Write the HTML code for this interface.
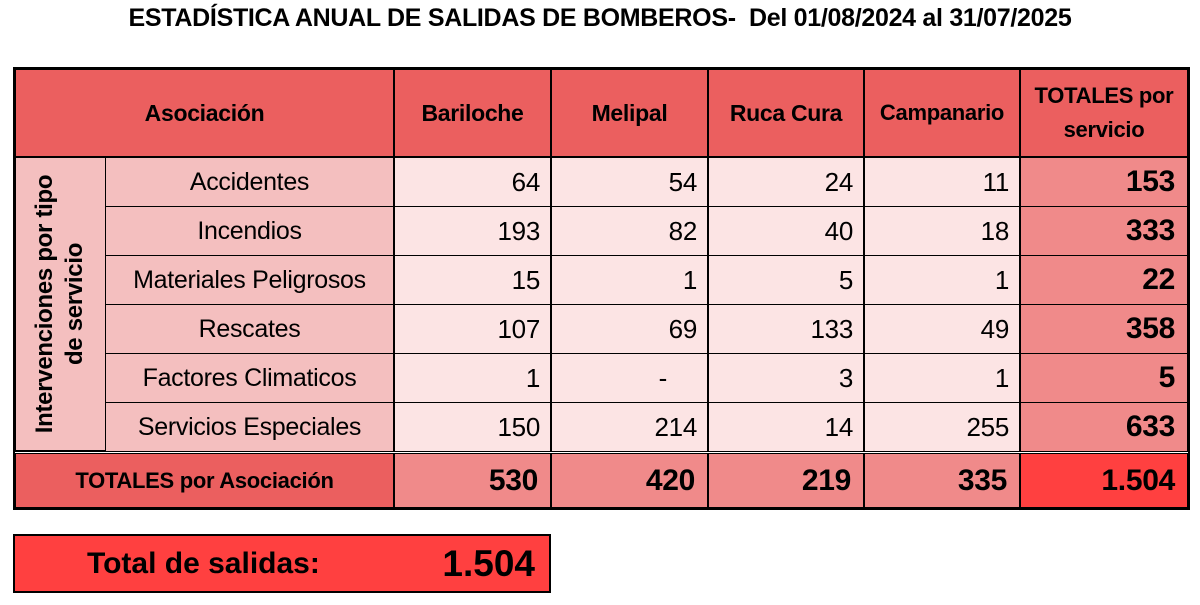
<!DOCTYPE html>
<html><head><meta charset="utf-8"><style>
body{margin:0;width:1200px;height:605px;background:#fff;position:relative;overflow:hidden;font-family:"Liberation Sans",sans-serif;color:#000}
.c{position:absolute;box-sizing:border-box;border:1px solid #000;display:flex;align-items:center;font-size:25px;letter-spacing:-0.3px}
.h{background:#EB5F5F;font-weight:bold;justify-content:center;text-align:center;font-size:23px}
.l{background:#F4BFBF;justify-content:center}
.d{background:#FCE4E4;justify-content:flex-end;padding-right:10px;font-size:26px}
.t{background:#F08A8A;justify-content:flex-end;padding-right:12px;font-weight:bold;font-size:30px}
</style></head><body>
<div style="position:absolute;left:0;width:1200px;top:4px;text-align:center;font-weight:bold;font-size:25px;letter-spacing:-0.3px">ESTADÍSTICA ANUAL DE SALIDAS DE BOMBEROS-&nbsp; Del 01/08/2024 al 31/07/2025</div>
<div style="position:absolute;left:13px;top:67px;width:1177px;height:443px;border:2px solid #000;box-sizing:border-box"></div>
<div class="c h" style="left:15px;top:69px;width:379px;height:88px">Asociación</div>
<div class="c h" style="left:394px;top:69px;width:157px;height:88px">Bariloche</div>
<div class="c h" style="left:551px;top:69px;width:157px;height:88px">Melipal</div>
<div class="c h" style="left:708px;top:69px;width:156px;height:88px">Ruca Cura</div>
<div class="c h" style="left:864px;top:69px;width:156px;height:88px;font-size:22px">Campanario</div>
<div class="c h" style="left:1020px;top:69px;width:168px;height:88px;line-height:34px;font-size:22px">TOTALES por<br>servicio</div>
<div class="c l" style="left:15px;top:157px;width:91px;height:294px;font-weight:bold;font-size:24px"><div style="transform:rotate(-90deg);white-space:nowrap;text-align:center;line-height:30px">Intervenciones por tipo<br>de servicio</div></div>

<div class="c l" style="left:105px;top:157px;width:289px;height:50px">Accidentes</div>
<div class="c d" style="left:394px;top:157px;width:157px;height:50px">64</div>
<div class="c d" style="left:551px;top:157px;width:157px;height:50px">54</div>
<div class="c d" style="left:708px;top:157px;width:156px;height:50px">24</div>
<div class="c d" style="left:864px;top:157px;width:156px;height:50px">11</div>
<div class="c t" style="left:1020px;top:157px;width:168px;height:50px">153</div>

<div class="c l" style="left:105px;top:206px;width:289px;height:50px">Incendios</div>
<div class="c d" style="left:394px;top:206px;width:157px;height:50px">193</div>
<div class="c d" style="left:551px;top:206px;width:157px;height:50px">82</div>
<div class="c d" style="left:708px;top:206px;width:156px;height:50px">40</div>
<div class="c d" style="left:864px;top:206px;width:156px;height:50px">18</div>
<div class="c t" style="left:1020px;top:206px;width:168px;height:50px">333</div>

<div class="c l" style="left:105px;top:255px;width:289px;height:50px">Materiales Peligrosos</div>
<div class="c d" style="left:394px;top:255px;width:157px;height:50px">15</div>
<div class="c d" style="left:551px;top:255px;width:157px;height:50px">1</div>
<div class="c d" style="left:708px;top:255px;width:156px;height:50px">5</div>
<div class="c d" style="left:864px;top:255px;width:156px;height:50px">1</div>
<div class="c t" style="left:1020px;top:255px;width:168px;height:50px">22</div>

<div class="c l" style="left:105px;top:304px;width:289px;height:50px">Rescates</div>
<div class="c d" style="left:394px;top:304px;width:157px;height:50px">107</div>
<div class="c d" style="left:551px;top:304px;width:157px;height:50px">69</div>
<div class="c d" style="left:708px;top:304px;width:156px;height:50px">133</div>
<div class="c d" style="left:864px;top:304px;width:156px;height:50px">49</div>
<div class="c t" style="left:1020px;top:304px;width:168px;height:50px">358</div>

<div class="c l" style="left:105px;top:353px;width:289px;height:50px">Factores Climaticos</div>
<div class="c d" style="left:394px;top:353px;width:157px;height:50px">1</div>
<div class="c d" style="left:551px;top:353px;width:157px;height:50px;padding-right:40px">-</div>
<div class="c d" style="left:708px;top:353px;width:156px;height:50px">3</div>
<div class="c d" style="left:864px;top:353px;width:156px;height:50px">1</div>
<div class="c t" style="left:1020px;top:353px;width:168px;height:50px">5</div>

<div class="c l" style="left:105px;top:402px;width:289px;height:50px">Servicios Especiales</div>
<div class="c d" style="left:394px;top:402px;width:157px;height:50px">150</div>
<div class="c d" style="left:551px;top:402px;width:157px;height:50px">214</div>
<div class="c d" style="left:708px;top:402px;width:156px;height:50px">14</div>
<div class="c d" style="left:864px;top:402px;width:156px;height:50px">255</div>
<div class="c t" style="left:1020px;top:402px;width:168px;height:50px">633</div>

<div style="position:absolute;left:15px;top:451px;width:1173px;height:3px;background:#fff;border-top:1px solid #000;border-bottom:1px solid #000;box-sizing:border-box"></div>
<div class="c h" style="left:15px;top:453px;width:379px;height:55px;font-size:22px">TOTALES por Asociación</div>
<div class="c t" style="left:394px;top:453px;width:157px;height:55px">530</div>
<div class="c t" style="left:551px;top:453px;width:157px;height:55px">420</div>
<div class="c t" style="left:708px;top:453px;width:156px;height:55px">219</div>
<div class="c t" style="left:864px;top:453px;width:156px;height:55px">335</div>
<div class="c t" style="left:1020px;top:453px;width:168px;height:55px;background:#FF4040">1.504</div>

<div style="position:absolute;left:13px;top:534px;width:538px;height:59px;border:2px solid #000;box-sizing:border-box;background:#FF4040;font-weight:bold">
<div style="position:absolute;left:72px;top:11px;font-size:30px">Total de salidas:</div>
<div style="position:absolute;right:14px;top:7px;font-size:37px">1.504</div>
</div>
</body></html>
